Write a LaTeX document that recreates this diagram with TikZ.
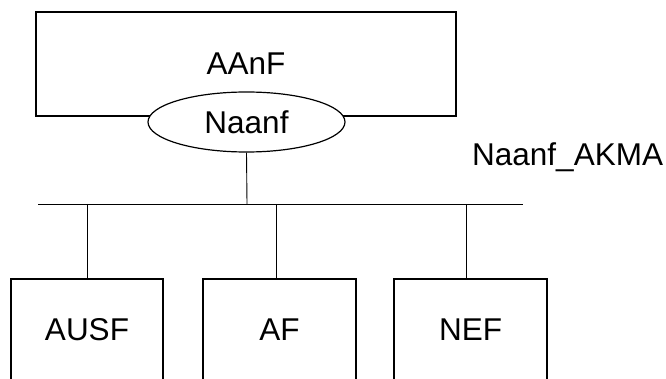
\documentclass[tikz,border=0pt]{standalone}
\usepackage{fontspec}
\setmainfont{Liberation Sans}
\usetikzlibrary{shapes.geometric}
\begin{document}
\begin{tikzpicture}[x=1pt,y=-1pt,
  nfbox/.style={draw, line width=1.2pt, fill=white, inner sep=0pt},
  iface/.style={draw, ellipse, line width=1.2pt, fill=white, inner sep=0pt, minimum width=197pt, minimum height=60pt},
  link/.style={line width=0.9pt},
  every node/.style={font=\fontsize{31.5}{36}\selectfont}]
\useasboundingbox (0,0) rectangle (666,379);
\clip (0,0) rectangle (666,379);
% AAnF box
\node[nfbox, minimum width=420pt, minimum height=104pt] (aanf) at (246,64) {AAnF};
\node[iface] (naanf) at (246.5,122) {Naanf};
% bus
\coordinate (busL) at (38,204);
\coordinate (busR) at (523,204);
\coordinate (busC) at (247,204);
\draw[link] (busL) -- (busR);
\draw[link] (naanf.south) -- (busC);
% lower boxes
\node[nfbox, minimum width=152pt, minimum height=102pt] (ausf) at (87,330) {AUSF};
\node[nfbox, minimum width=153pt, minimum height=102pt] (af) at (279.5,330) {AF};
\node[nfbox, minimum width=153pt, minimum height=102pt] (nef) at (470.5,330) {NEF};
\coordinate (d1) at (87,204);
\coordinate (d2) at (276,204);
\coordinate (d3) at (466,204);
\draw[link] (d1) -- (d1 |- ausf.north);
\draw[link] (d2) -- (d2 |- af.north);
\draw[link] (d3) -- (d3 |- nef.north);
% label
\node[anchor=base west, inner sep=0pt] (lbl) at (472,166) {Naanf\_AKMA};
\end{tikzpicture}
\end{document}
